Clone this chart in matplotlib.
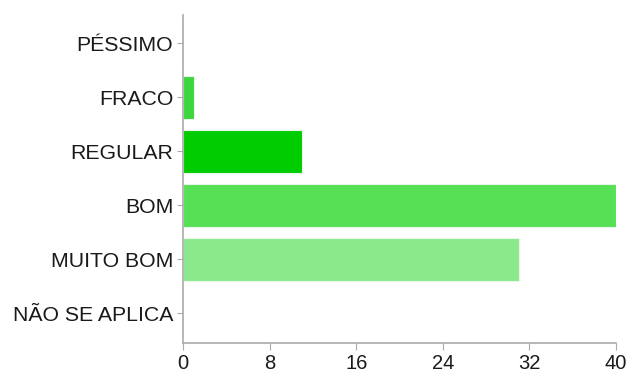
import numpy as np
import matplotlib
matplotlib.use("Agg")
import matplotlib.pyplot as plt

# Dados do gráfico
categorias = ["PÉSSIMO", "FRACO", "REGULAR", "BOM", "MUITO BOM", "NÃO SE APLICA"]
valores = [0, 1, 11, 40, 31, 0]
cores = ["#33cc33", "#3dd63d", "#00cc00", "#55e055", "#8be88b", "#33cc33"]
ticks_x = [0, 8, 16, 24, 32, 40]

plt.rcParams['font.family'] = ['Liberation Sans', 'DejaVu Sans']

fig = plt.figure(figsize=(6.3, 3.73), dpi=100)
ax = fig.add_axes([0.2905, 0.0804, 0.6873, 0.8794])

y = np.arange(len(categorias))
ax.barh(y, valores, height=0.8, color=cores, edgecolor="#e8f8e8", linewidth=0.8)

ax.set_ylim(len(categorias) - 0.45, -0.52)
ax.set_xlim(0, 40)
ax.set_yticks(y)
ax.set_yticklabels(categorias)
ax.set_xticks(ticks_x)

for s in ["top", "right"]:
    ax.spines[s].set_visible(False)
for s in ["left", "bottom"]:
    ax.spines[s].set_color("#aaaaaa")
    ax.spines[s].set_linewidth(1.2)

ax.tick_params(axis="y", length=4, color="#aaaaaa", pad=3, labelsize=15.3, labelcolor="#1a1a1a")
ax.tick_params(axis="x", length=5, color="#aaaaaa", pad=3, labelsize=14.5, labelcolor="#1a1a1a")

fig.savefig("out.png", dpi=100)
